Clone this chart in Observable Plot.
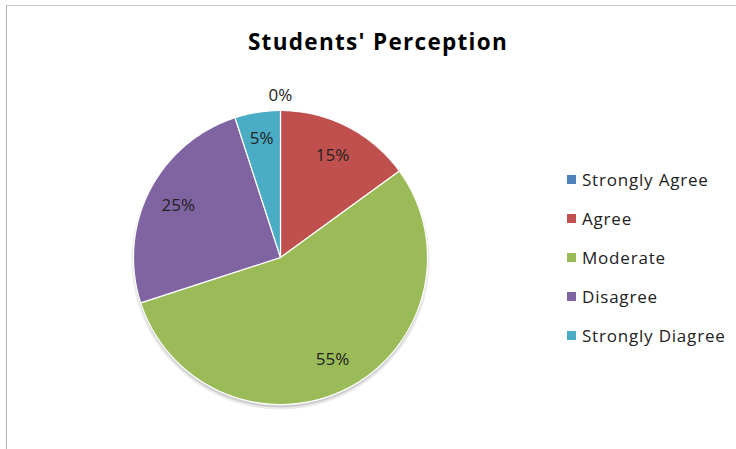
<!DOCTYPE html>
<html><head><meta charset="utf-8">
<script src="https://cdn.jsdelivr.net/npm/d3@7"></script>
<script src="https://cdn.jsdelivr.net/npm/@observablehq/plot@0.6"></script>
<style>
html,body{margin:0;padding:0;background:#fff;}
#wrap{position:relative;width:736px;height:449px;overflow:hidden;font-family:"Open Sans",sans-serif;}
#frame{position:absolute;left:6px;top:5px;width:760px;height:470px;border-left:1.5px solid #b0b0b0;border-top:1.5px solid #c8c8c8;}
#title{position:absolute;left:0;width:756px;top:26px;text-align:center;font-family:"Open Sans",sans-serif;font-weight:700;font-size:22.5px;color:#000;letter-spacing:1.3px;}
#chart{position:absolute;left:0;top:0;}
#legend{position:absolute;left:567px;top:159.5px;font-family:"Open Sans",sans-serif;font-size:17px;letter-spacing:0.8px;color:#222;}
#legend .row{display:flex;align-items:center;height:39px;}
#legend .sw{width:9px;height:9px;margin-right:6px;}
</style></head>
<body><div id="wrap"><div id="frame"></div><div id="title">Students' Perception</div><div id="chart"></div><div id="legend"></div></div>
<script>
const categories = ["Strongly Agree","Agree","Moderate","Disagree","Strongly Diagree"];
const values = [0, 15, 55, 25, 5];
const labels = ["0%","15%","55%","25%","5%"];
const colors = ["#4F81BD","#C0504D","#9BBB59","#8064A2","#4BACC6"];

const total = d3.sum(values);
const slices = [];
let acc = 0;
categories.forEach((c,i)=>{
  const a0 = acc/total*2*Math.PI; acc += values[i];
  const a1 = acc/total*2*Math.PI;
  slices.push({cat:c, a0, a1, value:values[i], label:labels[i]});
});
// polygon outline of each wedge (center + arc)
const pts = [];
for (const s of slices) {
  if (s.value === 0) continue;
  pts.push({cat:s.cat, x:0, y:0});
  const n = Math.max(2, Math.ceil((s.a1-s.a0)/(Math.PI/180)));
  for (let k=0;k<=n;k++){
    const a = s.a0 + (s.a1-s.a0)*k/n;
    pts.push({cat:s.cat, x:Math.sin(a), y:Math.cos(a)});
  }
  pts.push({cat:s.cat, x:0, y:0});
}
const labelPts = slices.map(s=>{
  const m = (s.a0+s.a1)/2;
  const r = s.value===0 ? 1.1 : (s.value<10 ? 0.82 : 0.78);
  return {label:s.label, x:Math.sin(m)*r, y:Math.cos(m)*r};
});
const shadow = d3.range(0,361,2).map(d=>({x:Math.sin(d*Math.PI/180)*1.0, y:Math.cos(d*Math.PI/180)*1.0 - 0.02}));

const chart = Plot.plot({
  width:736, height:449, margin:0,
  x:{domain:[-1,1], range:[133,427], axis:null},
  y:{domain:[-1,1], range:[404,110], axis:null},
  color:{domain:categories, range:colors},
  marks:[
    Plot.line(shadow,{x:"x",y:"y",fill:"#000",fillOpacity:0.12,stroke:"#000",strokeOpacity:0.08,strokeWidth:4}),
    Plot.line(pts,{x:"x",y:"y",z:"cat",fill:"cat",stroke:"#fff",strokeWidth:1.2,curve:"linear"}),
    Plot.text(labelPts,{x:"x",y:"y",text:"label",fontSize:17,fill:"#222",fontFamily:"'Open Sans',sans-serif",style:"letter-spacing:0.6px"})
  ]
});
document.getElementById("chart").appendChild(chart);

const lg = document.getElementById("legend");
categories.forEach((c,i)=>{
  const row = document.createElement("div"); row.className="row";
  const sw = document.createElement("div"); sw.className="sw"; sw.style.background=colors[i];
  const t = document.createElement("span"); t.textContent=c;
  row.appendChild(sw); row.appendChild(t); lg.appendChild(row);
});
</script></body></html>
